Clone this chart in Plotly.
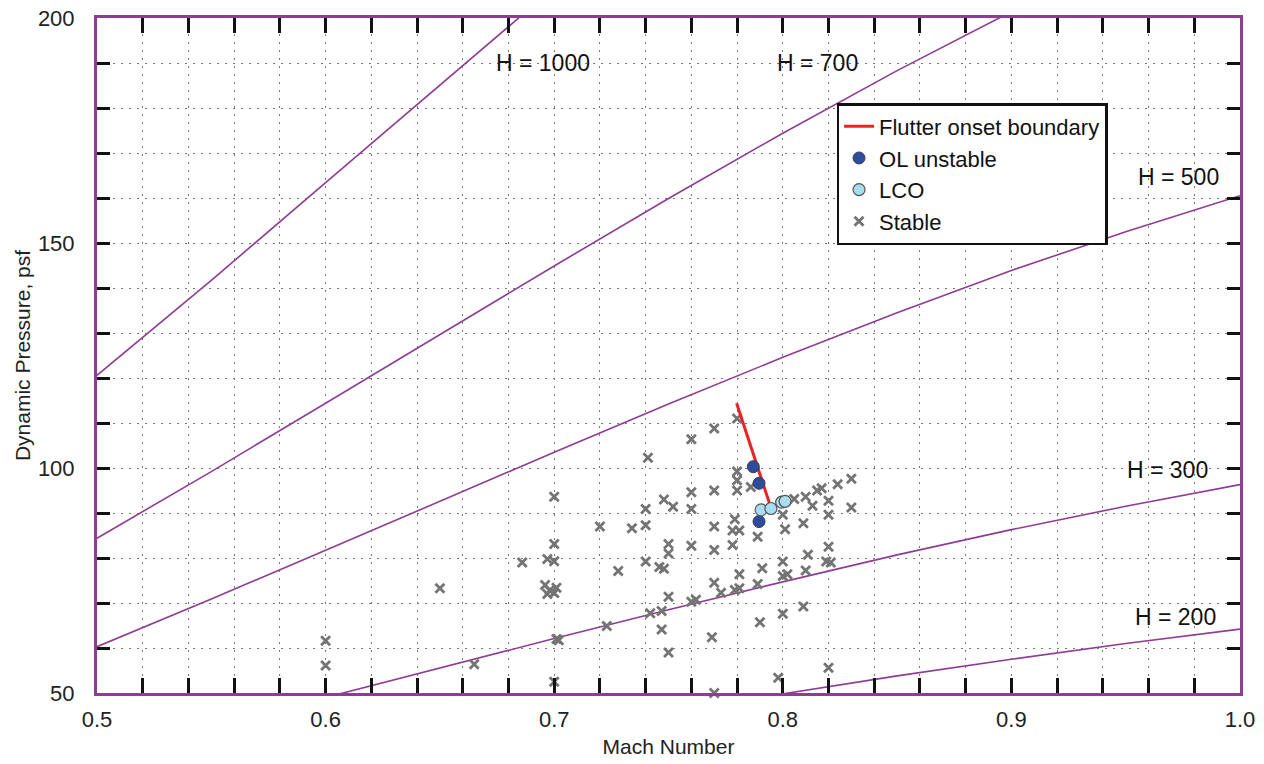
import plotly.graph_objects as go

# ---------------- data ----------------
mach_grid = [0.50, 0.55, 0.60, 0.65, 0.70, 0.75, 0.80, 0.85, 0.90, 0.95, 1.00]
h_levels = ["H = 1000", "H = 700", "H = 500", "H = 300", "H = 200"]
q_h1000 = [120.6, 141.7, 163.4, 185.2, 207.0, 228.4, 249.2, 269.0, 287.7, 305.1, 321.0]
q_h700 = [84.4, 99.2, 114.4, 129.7, 144.9, 159.9, 174.4, 188.3, 201.4, 213.5, 224.7]
q_h500 = [60.3, 70.9, 81.7, 92.6, 103.5, 114.2, 124.6, 134.5, 143.9, 152.5, 160.5]
q_h300 = [36.2, 42.5, 49.0, 55.6, 62.1, 68.5, 74.7, 80.7, 86.3, 91.5, 96.3]
q_h200 = [24.1, 28.3, 32.7, 37.0, 41.4, 45.7, 49.8, 53.8, 57.5, 61.0, 64.2]

label_mach = [0.695, 0.815, 0.973, 0.9685, 0.9716]
label_q = [190.0, 190.0, 164.7, 99.6, 66.9]

flutter_mach = [0.7798, 0.7944]
flutter_q = [114.4, 91.8]

ol_mach = [0.7871, 0.7896, 0.7896]
ol_q = [100.3, 96.6, 88.1]

lco_mach = [0.7905, 0.7948, 0.7995, 0.8010]
lco_q = [90.7, 91.0, 92.4, 92.6]

stable_mach = [
    0.600, 0.600, 0.650, 0.686, 0.665,
    0.760, 0.741, 0.700, 0.760, 0.748, 0.752, 0.740, 0.760, 0.720, 0.734, 0.740, 0.700, 0.750, 0.760,
    0.750, 0.697, 0.700, 0.740, 0.728, 0.746, 0.748,
    0.696, 0.698, 0.700, 0.701, 0.697,
    0.750, 0.760, 0.762, 0.742, 0.747, 0.723, 0.701, 0.702, 0.747, 0.750, 0.700,
    0.780, 0.770, 0.780, 0.780, 0.780, 0.770, 0.786, 0.779, 0.778, 0.781, 0.770, 0.789, 0.778, 0.770,
    0.800, 0.801, 0.805, 0.810, 0.813, 0.815, 0.817, 0.820, 0.820, 0.824, 0.830, 0.830, 0.809, 0.820,
    0.800, 0.811, 0.819, 0.821, 0.781, 0.791, 0.810, 0.800, 0.802, 0.770, 0.789, 0.779, 0.781, 0.773,
    0.809, 0.800, 0.790, 0.769, 0.820, 0.798, 0.770,
]
stable_q = [
    61.6, 56.1, 73.3, 79.0, 56.4,
    106.4, 102.3, 93.6, 94.6, 93.0, 91.4, 90.9, 90.9, 87.0, 86.6, 87.3, 83.1, 83.1, 82.7,
    81.0, 79.8, 79.3, 79.2, 77.1, 78.0, 77.6,
    74.0, 72.8, 72.2, 73.4, 72.0,
    71.4, 70.3, 70.7, 67.7, 68.2, 64.9, 62.0, 61.7, 64.1, 59.0, 52.5,
    111.0, 108.8, 99.2, 97.3, 95.0, 95.0, 95.8, 88.6, 86.1, 86.1, 87.0, 84.7, 82.9, 81.8,
    89.6, 86.4, 93.1, 93.6, 91.6, 95.0, 95.5, 92.7, 89.6, 96.4, 97.6, 91.2, 87.7, 82.5,
    79.2, 80.7, 79.2, 79.0, 76.4, 77.7, 77.2, 76.0, 76.4, 74.5, 74.2, 72.9, 73.3, 72.3,
    69.2, 67.6, 65.7, 62.4, 55.6, 53.4, 50.0,
]

x_tick_vals = [round(0.50 + 0.02 * i, 2) for i in range(26)]
x_tick_text = ["0.5", "", "", "", "", "0.6", "", "", "", "", "0.7", "", "", "", "",
               "0.8", "", "", "", "", "0.9", "", "", "", "", "1.0"]
y_tick_vals = list(range(50, 201, 10))
y_tick_text = ["50", "", "", "", "", "100", "", "", "", "", "150", "", "", "", "", "200"]

# ---------------- styles ----------------
PURPLE = "#8E3D92"
FONT = "Liberation Sans, Arial, Helvetica, sans-serif"

fig = go.Figure()

for q_vals in [q_h1000, q_h700, q_h500, q_h300, q_h200]:
    fig.add_trace(go.Scatter(
        x=mach_grid, y=q_vals, mode="lines",
        line=dict(color=PURPLE, width=1.6),
        showlegend=False, hoverinfo="skip",
    ))

fig.add_trace(go.Scatter(
    x=stable_mach, y=stable_q, mode="markers", name="Stable",
    marker=dict(symbol="x-thin", size=9, line=dict(color="#747474", width=2.8)),
    cliponaxis=False, legendrank=4,
))

fig.add_trace(go.Scatter(
    x=flutter_mach, y=flutter_q, mode="lines", name="Flutter onset boundary",
    line=dict(color="#EE2222", width=3), legendrank=1,
))

fig.add_trace(go.Scatter(
    x=ol_mach, y=ol_q, mode="markers", name="OL unstable",
    marker=dict(symbol="circle", size=12, color="#2D4C9C",
                line=dict(color="#3A3A5A", width=1)),
    legendrank=2,
))

fig.add_trace(go.Scatter(
    x=lco_mach, y=lco_q, mode="markers", name="LCO",
    marker=dict(symbol="circle", size=12, color="#A9DDF2",
                line=dict(color="#555555", width=1.2)),
    legendrank=3,
))

for txt, mx, qy in zip(h_levels, label_mach, label_q):
    fig.add_annotation(x=mx, y=qy, xref="x", yref="y", text=txt, showarrow=False,
                       font=dict(family=FONT, size=23, color="#111111"))

fig.update_layout(
    width=1264, height=764,
    margin=dict(l=97, r=24, t=18, b=71, autoexpand=False),
    paper_bgcolor="white", plot_bgcolor="white",
    font=dict(family=FONT, size=21, color="#222222"),
    legend=dict(
        x=0.647, y=0.874, xanchor="left", yanchor="top",
        bgcolor="white", bordercolor="#111111", borderwidth=2.5,
        font=dict(family=FONT, size=22, color="#111111"),
        traceorder="normal",
        itemwidth=30,
    ),
)

fig.update_xaxes(
    range=[0.5, 1.0], automargin=False,
    tickmode="array", tickvals=x_tick_vals, ticktext=x_tick_text,
    ticks="inside", ticklen=15, tickwidth=3, tickcolor="#111111",
    showline=True, linecolor=PURPLE, linewidth=3, mirror="allticks",
    showgrid=True, gridcolor="#777777", gridwidth=1, griddash="2px,6px",
    zeroline=False,
    title=dict(text="Mach Number", font=dict(family=FONT, size=21, color="#222222"), standoff=8),
    tickfont=dict(family=FONT, size=22, color="#222222"),
    ticklabelstandoff=5, ticklabeloverflow="allow",
)
fig.update_yaxes(
    range=[50, 200], automargin=False,
    tickmode="array", tickvals=y_tick_vals, ticktext=y_tick_text,
    ticks="inside", ticklen=13, tickwidth=3, tickcolor="#111111",
    showline=True, linecolor=PURPLE, linewidth=3, mirror="allticks",
    showgrid=True, gridcolor="#777777", gridwidth=1, griddash="2px,6px",
    zeroline=False,
    title=dict(text="Dynamic Pressure, psf", font=dict(family=FONT, size=21, color="#222222"), standoff=2),
    tickfont=dict(family=FONT, size=22, color="#222222"),
    ticklabelstandoff=15, ticklabeloverflow="allow",
)

# remove the default 8px page margin so the figure fills the window exactly
fig.write_html("out.html", config={"displayModeBar": False},
               post_script="document.body.style.margin='0';")
